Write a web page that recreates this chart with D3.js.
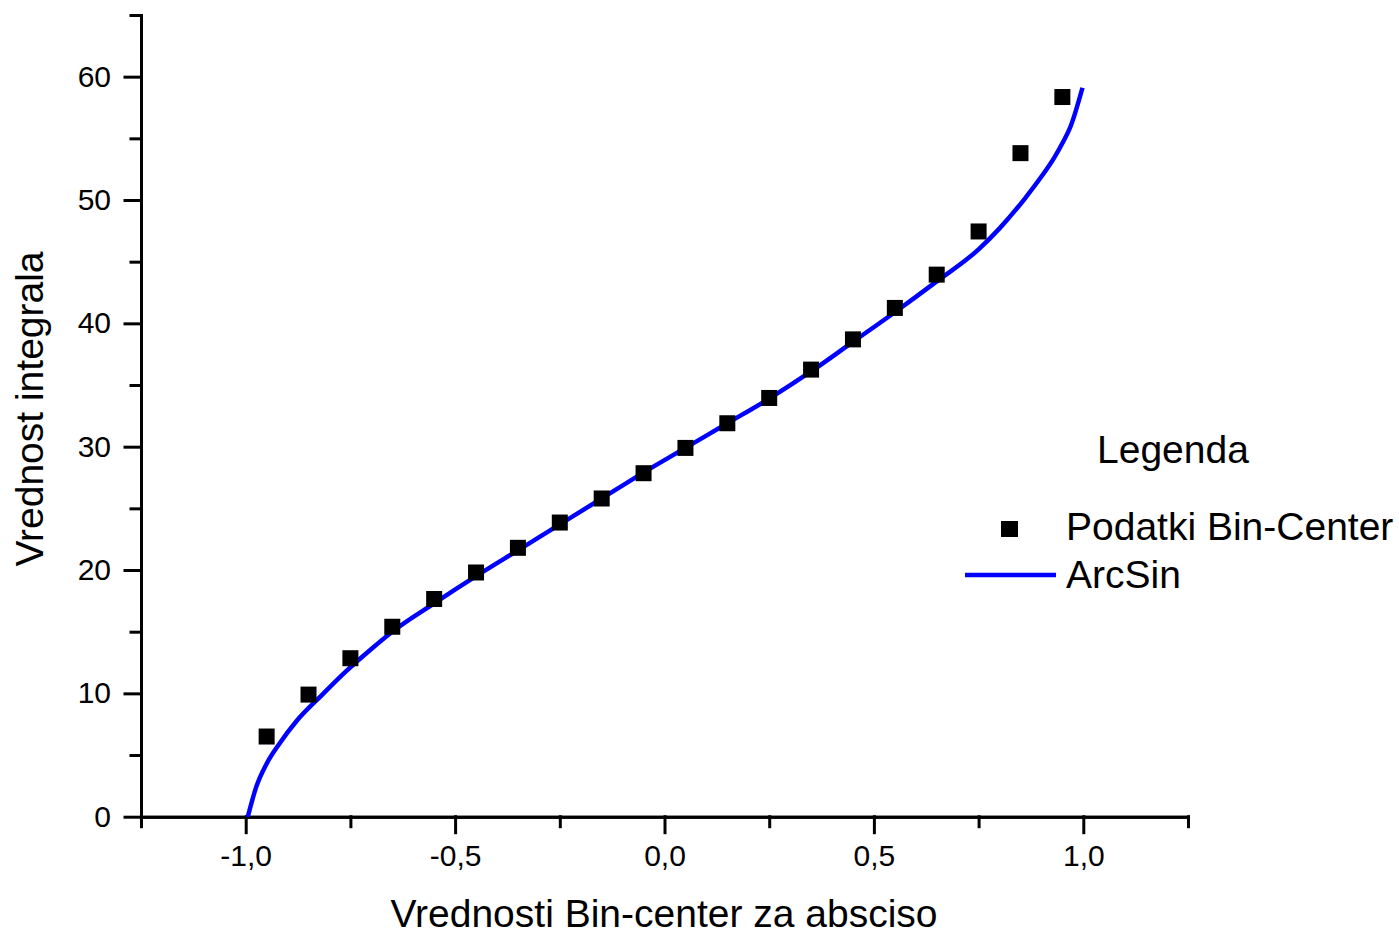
<!DOCTYPE html>
<html>
<head>
<meta charset="utf-8">
<script src="https://cdn.jsdelivr.net/npm/d3@7"></script>
<style>
  body { margin: 0; background: #fff; }
  text { font-family: "Liberation Sans", Arial, sans-serif; fill: #000; }
</style>
</head>
<body>
<svg id="canvas"></svg>
<script>
//--data
let binCenters = [-0.95, -0.85, -0.75, -0.65, -0.55, -0.45, -0.35, -0.25, -0.15, -0.05,
                  0.05, 0.15, 0.25, 0.35, 0.45, 0.55, 0.65, 0.75, 0.85, 0.95];
let integralValues = [6.5, 9.9, 12.85, 15.4, 17.65, 19.8, 21.8, 23.85, 25.8, 27.85,
                      29.9, 31.9, 33.95, 36.25, 38.7, 41.25, 43.95, 47.45, 53.8, 58.35];

let arcsinX = [-0.995, -0.975, -0.95, -0.92, -0.88, -0.82, -0.76, -0.70, -0.65, -0.55,
               -0.45, -0.35, -0.25, -0.15, -0.06, 0.05, 0.15, 0.25, 0.35, 0.45,
               0.55, 0.65, 0.75, 0.80, 0.86, 0.90, 0.93, 0.95, 0.97, 0.998];
let arcsinY = [0, 2.4, 4.3, 5.9, 7.7, 9.8, 11.8, 13.6, 15.0, 17.3,
               19.5, 21.6, 23.7, 25.8, 27.7, 29.9, 31.9, 33.9, 36.1, 38.5,
               40.9, 43.4, 46.0, 47.7, 50.1, 51.9, 53.4, 54.6, 56.0, 59.1];

let xMajorTicks = [-1, -0.5, 0, 0.5, 1];
let xMinorTicks = [-1.25, -0.75, -0.25, 0.25, 0.75, 1.25];
let yMajorTicks = [0, 10, 20, 30, 40, 50, 60];
let yMinorTicks = [5, 15, 25, 35, 45, 55, 65];

let legendTitle = "Legenda";
let seriesNames = ["Podatki Bin-Center", "ArcSin"];
let xTitle = "Vrednosti Bin-center za absciso";
let yTitle = "Vrednost integrala";
//--

//--canvas
let width = 1399;
let height = 935;

let canvas = d3.select("#canvas")
canvas.attr("width", width)
canvas.attr("height", height)
//--

//--scales
let xScale = d3.scaleLinear().domain([-1.25, 1.25]).range([141, 1188]);
let yScale = d3.scaleLinear().domain([0, 65]).range([816.7, 15]);

let locale = d3.formatLocale({decimal: ",", thousands: ".", grouping: [3], currency: ["", ""], minus: "-"});
let xFormat = locale.format(".1f");
let yFormat = locale.format("d");
//--

let drawAxes = () => {

    // minor ticks first, then majors with labels
    canvas.append("g")
        .attr("transform", "translate(0," + yScale(0) + ")")
        .call(d3.axisBottom(xScale).tickValues(xMinorTicks).tickSize(10).tickSizeOuter(0).tickFormat(""));

    canvas.append("g")
        .attr("transform", "translate(0," + yScale(0) + ")")
        .call(d3.axisBottom(xScale).tickValues(xMajorTicks).tickSize(16).tickSizeOuter(0).tickPadding(12).tickFormat(xFormat));

    canvas.append("g")
        .attr("transform", "translate(" + xScale(-1.25) + ",0)")
        .call(d3.axisLeft(yScale).tickValues(yMinorTicks).tickSize(10).tickSizeOuter(0).tickFormat(""));

    canvas.append("g")
        .attr("transform", "translate(" + xScale(-1.25) + ",0)")
        .call(d3.axisLeft(yScale).tickValues(yMajorTicks).tickSize(16).tickSizeOuter(0).tickPadding(14).tickFormat(yFormat));

    canvas.selectAll(".domain, .tick line")
        .attr("stroke", "#000")
        .attr("stroke-width", 3)
        .attr("stroke-linecap", "square");

    canvas.selectAll(".tick text")
        .attr("font-size", 30)
        .attr("font-family", "Liberation Sans, Arial, sans-serif")
        .attr("fill", "#000");

    // axis titles
    canvas.append("text")
        .attr("x", 664)
        .attr("y", 927)
        .attr("text-anchor", "middle")
        .attr("font-size", 39)
        .text(xTitle);

    canvas.append("text")
        .attr("transform", "translate(43,409) rotate(-90)")
        .attr("text-anchor", "middle")
        .attr("font-size", 39)
        .text(yTitle);
}

let drawSeries = () => {

    let curve = arcsinX.map((x, i) => [x, arcsinY[i]]);

    let line = d3.line()
        .x(d => xScale(d[0]))
        .y(d => yScale(d[1]))
        .curve(d3.curveMonotoneX);

    canvas.append("path")
        .datum(curve)
        .attr("d", line)
        .attr("fill", "none")
        .attr("stroke", "#0000ff")
        .attr("stroke-width", 4.5)
        .attr("stroke-linejoin", "round");

    let size = 16;

    canvas.selectAll(".point")
        .data(binCenters)
        .enter()
        .append("rect")
        .attr("class", "point")
        .attr("x", d => xScale(d) - size / 2)
        .attr("y", (d, i) => yScale(integralValues[i]) - size / 2)
        .attr("width", size)
        .attr("height", size)
        .attr("fill", "#000");
}

let drawLegend = () => {

    let g = canvas.append("g")

    g.append("text")
        .attr("x", 1097)
        .attr("y", 463)
        .attr("font-size", 39)
        .text(legendTitle);

    g.append("rect")
        .attr("x", 1001)
        .attr("y", 521)
        .attr("width", 17)
        .attr("height", 16)
        .attr("fill", "#000");

    g.append("line")
        .attr("x1", 965)
        .attr("x2", 1056)
        .attr("y1", 575)
        .attr("y2", 575)
        .attr("stroke", "#0000ff")
        .attr("stroke-width", 4.5);

    g.selectAll(".legend-label")
        .data(seriesNames)
        .enter()
        .append("text")
        .attr("class", "legend-label")
        .attr("x", 1066)
        .attr("y", (d, i) => 540 + i * 48)
        .attr("font-size", 39)
        .text(d => d);
}

drawAxes()
drawSeries()
drawLegend()
</script>
</body>
</html>
